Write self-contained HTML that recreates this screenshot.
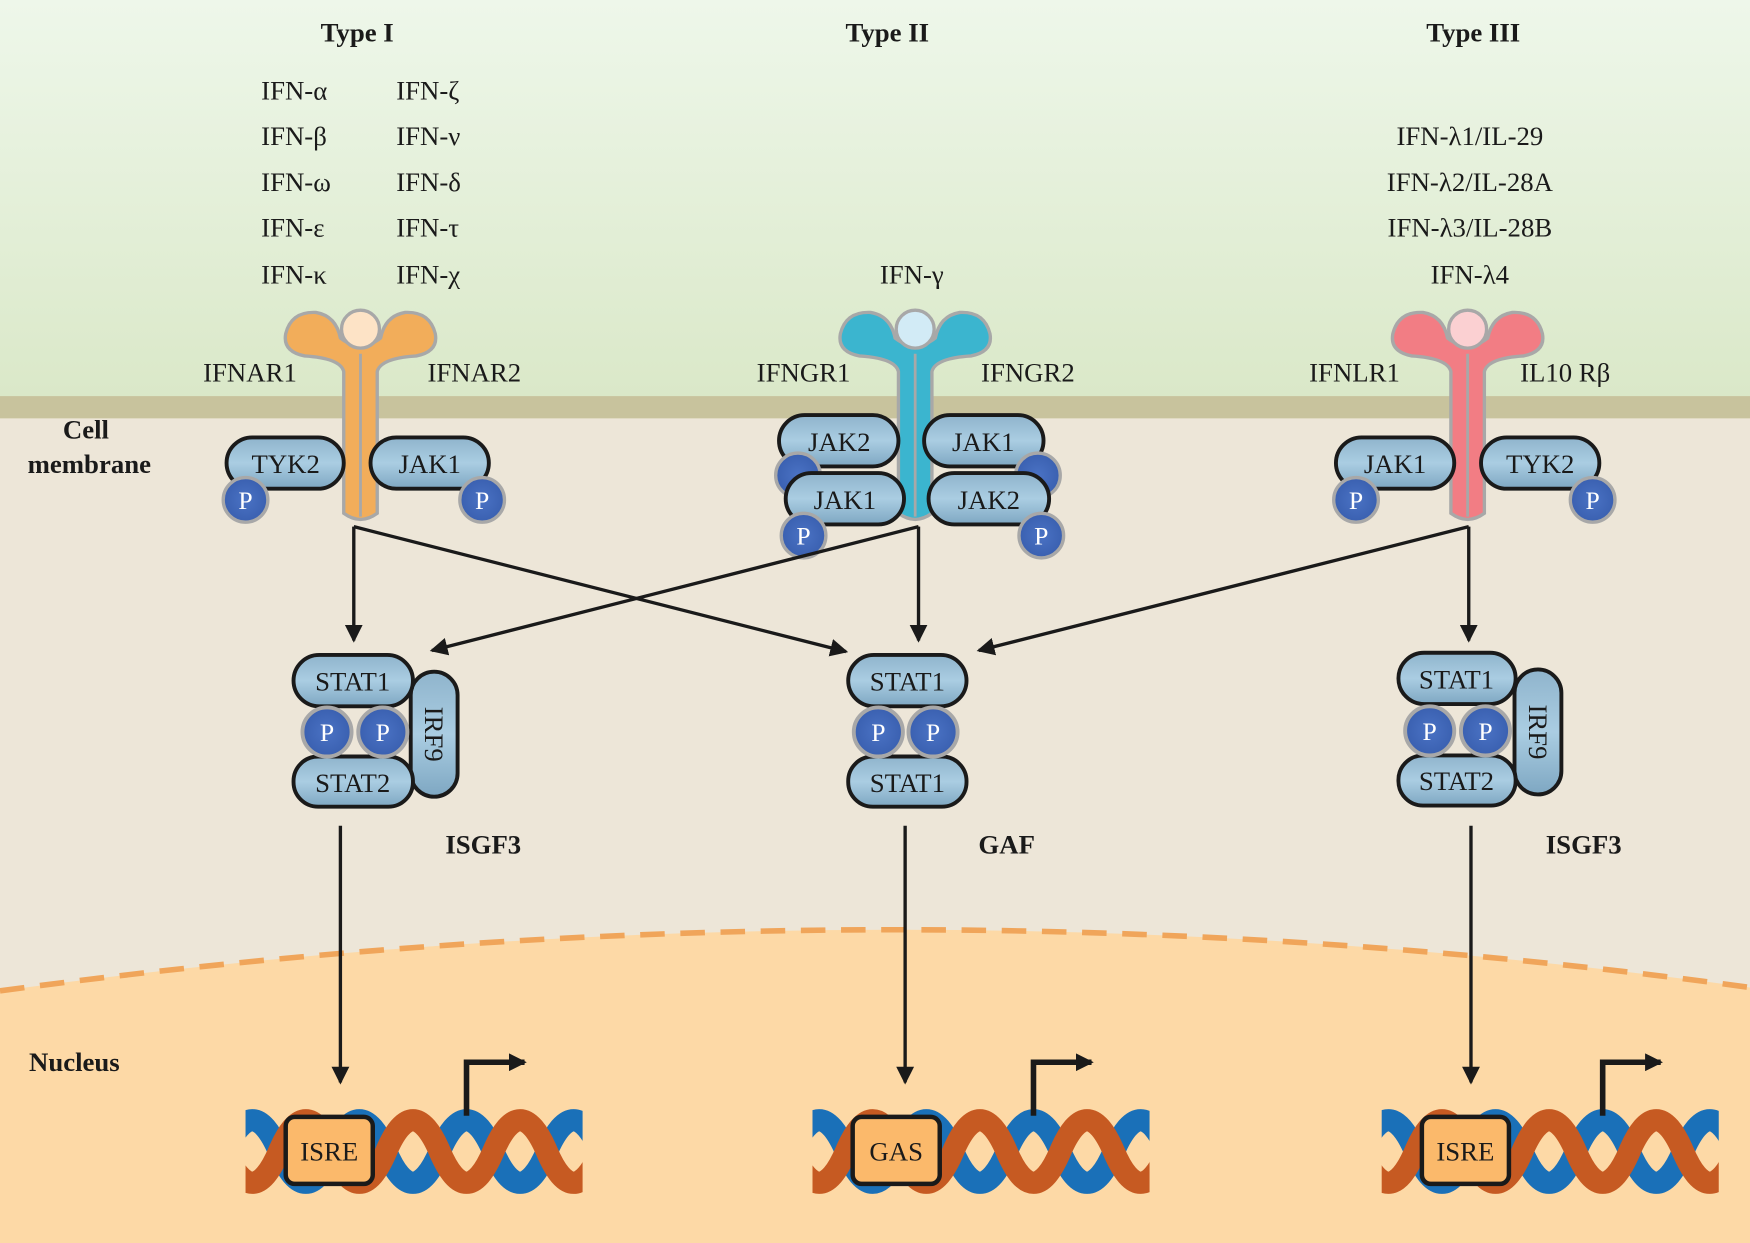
<!DOCTYPE html>
<html><head><meta charset="utf-8"><style>
html,body{margin:0;padding:0;background:#ede6d8}
svg{display:block}
text{font-family:"Liberation Serif",serif;fill:#1a1a1a}
.t{font-size:24px}
.b{font-weight:bold}
.p{fill:#fff;font-size:23px}
</style></head><body>
<svg width="1750" height="1243" viewBox="0 0 1568 1114" preserveAspectRatio="none" xmlns="http://www.w3.org/2000/svg">
<defs>
<linearGradient id="sky" x1="0" y1="0" x2="0" y2="1"><stop offset="0" stop-color="#eef7ea"/><stop offset="1" stop-color="#dae8c8"/></linearGradient>
<linearGradient id="pill" x1="0" y1="0" x2="0" y2="1"><stop offset="0" stop-color="#8fb4cc"/><stop offset=".5" stop-color="#aacde2"/><stop offset="1" stop-color="#7ea7c2"/></linearGradient>
<radialGradient id="pc"><stop offset="0" stop-color="#4a72c4"/><stop offset="1" stop-color="#3a60b0"/></radialGradient>
<marker id="ah2" markerWidth="16" markerHeight="16" refX="14" refY="8" orient="auto" markerUnits="userSpaceOnUse" viewBox="0 0 16 16"><path d="M0,0 L16,8 L0,16 Z" fill="#1a1a1a"/></marker>
<path id="rec" d="M-15,165 V38 Q-18,26 -50,24 Q-70,20 -67,4 Q-62,-16 -40,-15 Q-22,-12 -18,8 Q0,22 18,8 Q22,-12 40,-15 Q62,-16 67,4 Q70,20 50,24 Q18,26 15,38 V165 Q0,176 -15,165 Z"/>
<clipPath id="dc"><rect x="220" y="980" width="302" height="110"/></clipPath>
<g id="dna">
<g clip-path="url(#dc)" fill="none" stroke-width="20">
<path stroke="#1a70b8" d="M202,1032 Q226,976 250,1032 T298,1032 T346,1032 T394,1032 T442,1032 T490,1032 T538,1032"/>
<path stroke="#c65a22" d="M202,1032 Q226,1088 250,1032 T298,1032 T346,1032 T394,1032 T442,1032 T490,1032 T538,1032"/>
</g>
<path d="M418,1000 V952 H470" fill="none" stroke="#1a1a1a" stroke-width="5" marker-end="url(#ah2)"/>
<rect x="256" y="1001" width="78" height="60" rx="8" fill="#fbb96b" stroke="#1a1a1a" stroke-width="4"/>
</g>
</defs>
<rect width="1568" height="360" fill="url(#sky)"/>
<rect y="355" width="1568" height="20" fill="#c8c39d"/>
<rect y="375" width="1568" height="739" fill="#ede6d8"/>
<path d="M0,888 Q800,780 1568,885 V1114 H0 Z" fill="#fdd9a6"/>
<path d="M0,888 Q800,780 1568,885" fill="none" stroke="#f0a55a" stroke-width="5" stroke-dasharray="22,14"/>

<text class="t b" x="320" y="37" text-anchor="middle">Type I</text>
<text class="t b" x="795" y="37" text-anchor="middle">Type II</text>
<text class="t b" x="1320" y="37" text-anchor="middle">Type III</text>
<text x="234" y="89" class="t">IFN-α</text><text x="355" y="89" class="t">IFN-ζ</text>
<text x="234" y="130" class="t">IFN-β</text><text x="355" y="130" class="t">IFN-ν</text>
<text x="234" y="171" class="t">IFN-ω</text><text x="355" y="171" class="t">IFN-δ</text>
<text x="234" y="212" class="t">IFN-ε</text><text x="355" y="212" class="t">IFN-τ</text>
<text x="234" y="254" class="t">IFN-κ</text><text x="355" y="254" class="t">IFN-χ</text>
<text x="817" y="254" class="t" text-anchor="middle">IFN-γ</text>
<text x="1317" y="130" class="t" text-anchor="middle">IFN-λ1/IL-29</text>
<text x="1317" y="171" class="t" text-anchor="middle">IFN-λ2/IL-28A</text>
<text x="1317" y="212" class="t" text-anchor="middle">IFN-λ3/IL-28B</text>
<text x="1317" y="254" class="t" text-anchor="middle">IFN-λ4</text>
<text x="182" y="342" class="t">IFNAR1</text><text x="383" y="342" class="t">IFNAR2</text>
<text x="678" y="342" class="t">IFNGR1</text><text x="879" y="342" class="t">IFNGR2</text>
<text x="1173" y="342" class="t">IFNLR1</text><text x="1362" y="342" class="t">IL10 Rβ</text>
<text class="t b" x="77" y="393" text-anchor="middle">Cell</text>
<text class="t b" x="80" y="424" text-anchor="middle">membrane</text>
<text class="t b" x="26" y="960">Nucleus</text>

<g transform="translate(323,295)"><use href="#rec" fill="#f2ad5a" stroke="#a8a8a8" stroke-width="3"/><line x1="0" y1="22" x2="0" y2="168" stroke="#a8a8a8" stroke-width="2.5"/><circle r="17" fill="#fde3c6" stroke="#a8a8a8" stroke-width="3"/></g>
<g transform="translate(820,295)"><use href="#rec" fill="#3bb5cf" stroke="#a8a8a8" stroke-width="3"/><line x1="0" y1="22" x2="0" y2="168" stroke="#a8a8a8" stroke-width="2.5"/><circle r="17" fill="#d2ebf6" stroke="#a8a8a8" stroke-width="3"/></g>
<g transform="translate(1315,295)"><use href="#rec" fill="#f27d84" stroke="#a8a8a8" stroke-width="3"/><line x1="0" y1="22" x2="0" y2="168" stroke="#a8a8a8" stroke-width="2.5"/><circle r="17" fill="#fbd0d2" stroke="#a8a8a8" stroke-width="3"/></g>

<g stroke="#1a1a1a" stroke-width="3.5" fill="url(#pill)">
<rect x="203" y="392" width="105" height="46" rx="23"/><rect x="332" y="392" width="106" height="46" rx="23"/>
<rect x="1197" y="392" width="106" height="46" rx="23"/><rect x="1327" y="392" width="106" height="46" rx="23"/>
<rect x="698" y="372" width="107" height="46" rx="23"/><rect x="828" y="372" width="107" height="46" rx="23"/>
</g>
<g fill="url(#pc)" stroke="#a8a8a8" stroke-width="3"><circle cx="715" cy="426" r="20"/><circle cx="930" cy="426" r="20"/></g>
<g stroke="#1a1a1a" stroke-width="3.5" fill="url(#pill)">
<rect x="704" y="424" width="106" height="46" rx="23"/><rect x="832" y="424" width="108" height="46" rx="23"/>
</g>
<g fill="url(#pc)" stroke="#a8a8a8" stroke-width="3">
<circle cx="220" cy="448" r="20"/><circle cx="432" cy="448" r="20"/>
<circle cx="1215" cy="448" r="20"/><circle cx="1427" cy="448" r="20"/>
<circle cx="720" cy="480" r="20"/><circle cx="933" cy="480" r="20"/>
</g>
<text x="256" y="424" text-anchor="middle" class="t">TYK2</text><text x="385" y="424" text-anchor="middle" class="t">JAK1</text>
<text x="1250" y="424" text-anchor="middle" class="t">JAK1</text><text x="1380" y="424" text-anchor="middle" class="t">TYK2</text>
<text x="752" y="404" text-anchor="middle" class="t">JAK2</text><text x="881" y="404" text-anchor="middle" class="t">JAK1</text>
<text x="757" y="456" text-anchor="middle" class="t">JAK1</text><text x="886" y="456" text-anchor="middle" class="t">JAK2</text>
<text x="220" y="456" text-anchor="middle" class="p">P</text><text x="432" y="456" text-anchor="middle" class="p">P</text>
<text x="1215" y="456" text-anchor="middle" class="p">P</text><text x="1427" y="456" text-anchor="middle" class="p">P</text>
<text x="720" y="488" text-anchor="middle" class="p">P</text><text x="933" y="488" text-anchor="middle" class="p">P</text>

<g stroke="#1a1a1a" stroke-width="3" fill="none" marker-end="url(#ah2)">
<path d="M317,472 V574"/>
<path d="M317,472 L758,584"/>
<path d="M823,472 L387,583"/>
<path d="M823,472 V574"/>
<path d="M1316,472 L877,583"/>
<path d="M1316,472 V574"/>
<path d="M305,740 V970"/>
<path d="M811,740 V970"/>
<path d="M1318,740 V970"/>
</g>

<g stroke="#1a1a1a" stroke-width="3.5" fill="url(#pill)">
<rect x="368" y="602" width="42" height="112" rx="21"/>
<rect x="1357" y="600" width="42" height="112" rx="21"/>
<rect x="263" y="587" width="107" height="46" rx="23"/><rect x="263" y="678" width="107" height="45" rx="22"/>
<rect x="760" y="587" width="106" height="46" rx="23"/><rect x="760" y="678" width="106" height="45" rx="22"/>
<rect x="1253" y="585" width="105" height="46" rx="23"/><rect x="1253" y="677" width="105" height="45" rx="22"/>
</g>
<g fill="url(#pc)" stroke="#a8a8a8" stroke-width="3.5">
<circle cx="293" cy="656" r="22"/><circle cx="343" cy="656" r="22"/>
<circle cx="787" cy="656" r="22"/><circle cx="836" cy="656" r="22"/>
<circle cx="1281" cy="655" r="22"/><circle cx="1331" cy="655" r="22"/>
</g>
<text x="316" y="619" text-anchor="middle" class="t">STAT1</text><text x="316" y="710" text-anchor="middle" class="t">STAT2</text>
<text x="813" y="619" text-anchor="middle" class="t">STAT1</text><text x="813" y="710" text-anchor="middle" class="t">STAT1</text>
<text x="1305" y="617" text-anchor="middle" class="t">STAT1</text><text x="1305" y="708" text-anchor="middle" class="t">STAT2</text>
<text transform="translate(381,658) rotate(90)" text-anchor="middle" class="t">IRF9</text>
<text transform="translate(1370,656) rotate(90)" text-anchor="middle" class="t">IRF9</text>
<text x="293" y="664" text-anchor="middle" class="p">P</text><text x="343" y="664" text-anchor="middle" class="p">P</text>
<text x="787" y="664" text-anchor="middle" class="p">P</text><text x="836" y="664" text-anchor="middle" class="p">P</text>
<text x="1281" y="663" text-anchor="middle" class="p">P</text><text x="1331" y="663" text-anchor="middle" class="p">P</text>
<text class="t b" x="433" y="765" text-anchor="middle">ISGF3</text>
<text class="t b" x="902" y="765" text-anchor="middle">GAF</text>
<text class="t b" x="1419" y="765" text-anchor="middle">ISGF3</text>

<use href="#dna"/>
<use href="#dna" transform="translate(508,0)"/>
<use href="#dna" transform="translate(1018,0)"/>
<text x="295" y="1040" text-anchor="middle" class="t">ISRE</text>
<text x="803" y="1040" text-anchor="middle" class="t">GAS</text>
<text x="1313" y="1040" text-anchor="middle" class="t">ISRE</text>
</svg>
</body></html>
